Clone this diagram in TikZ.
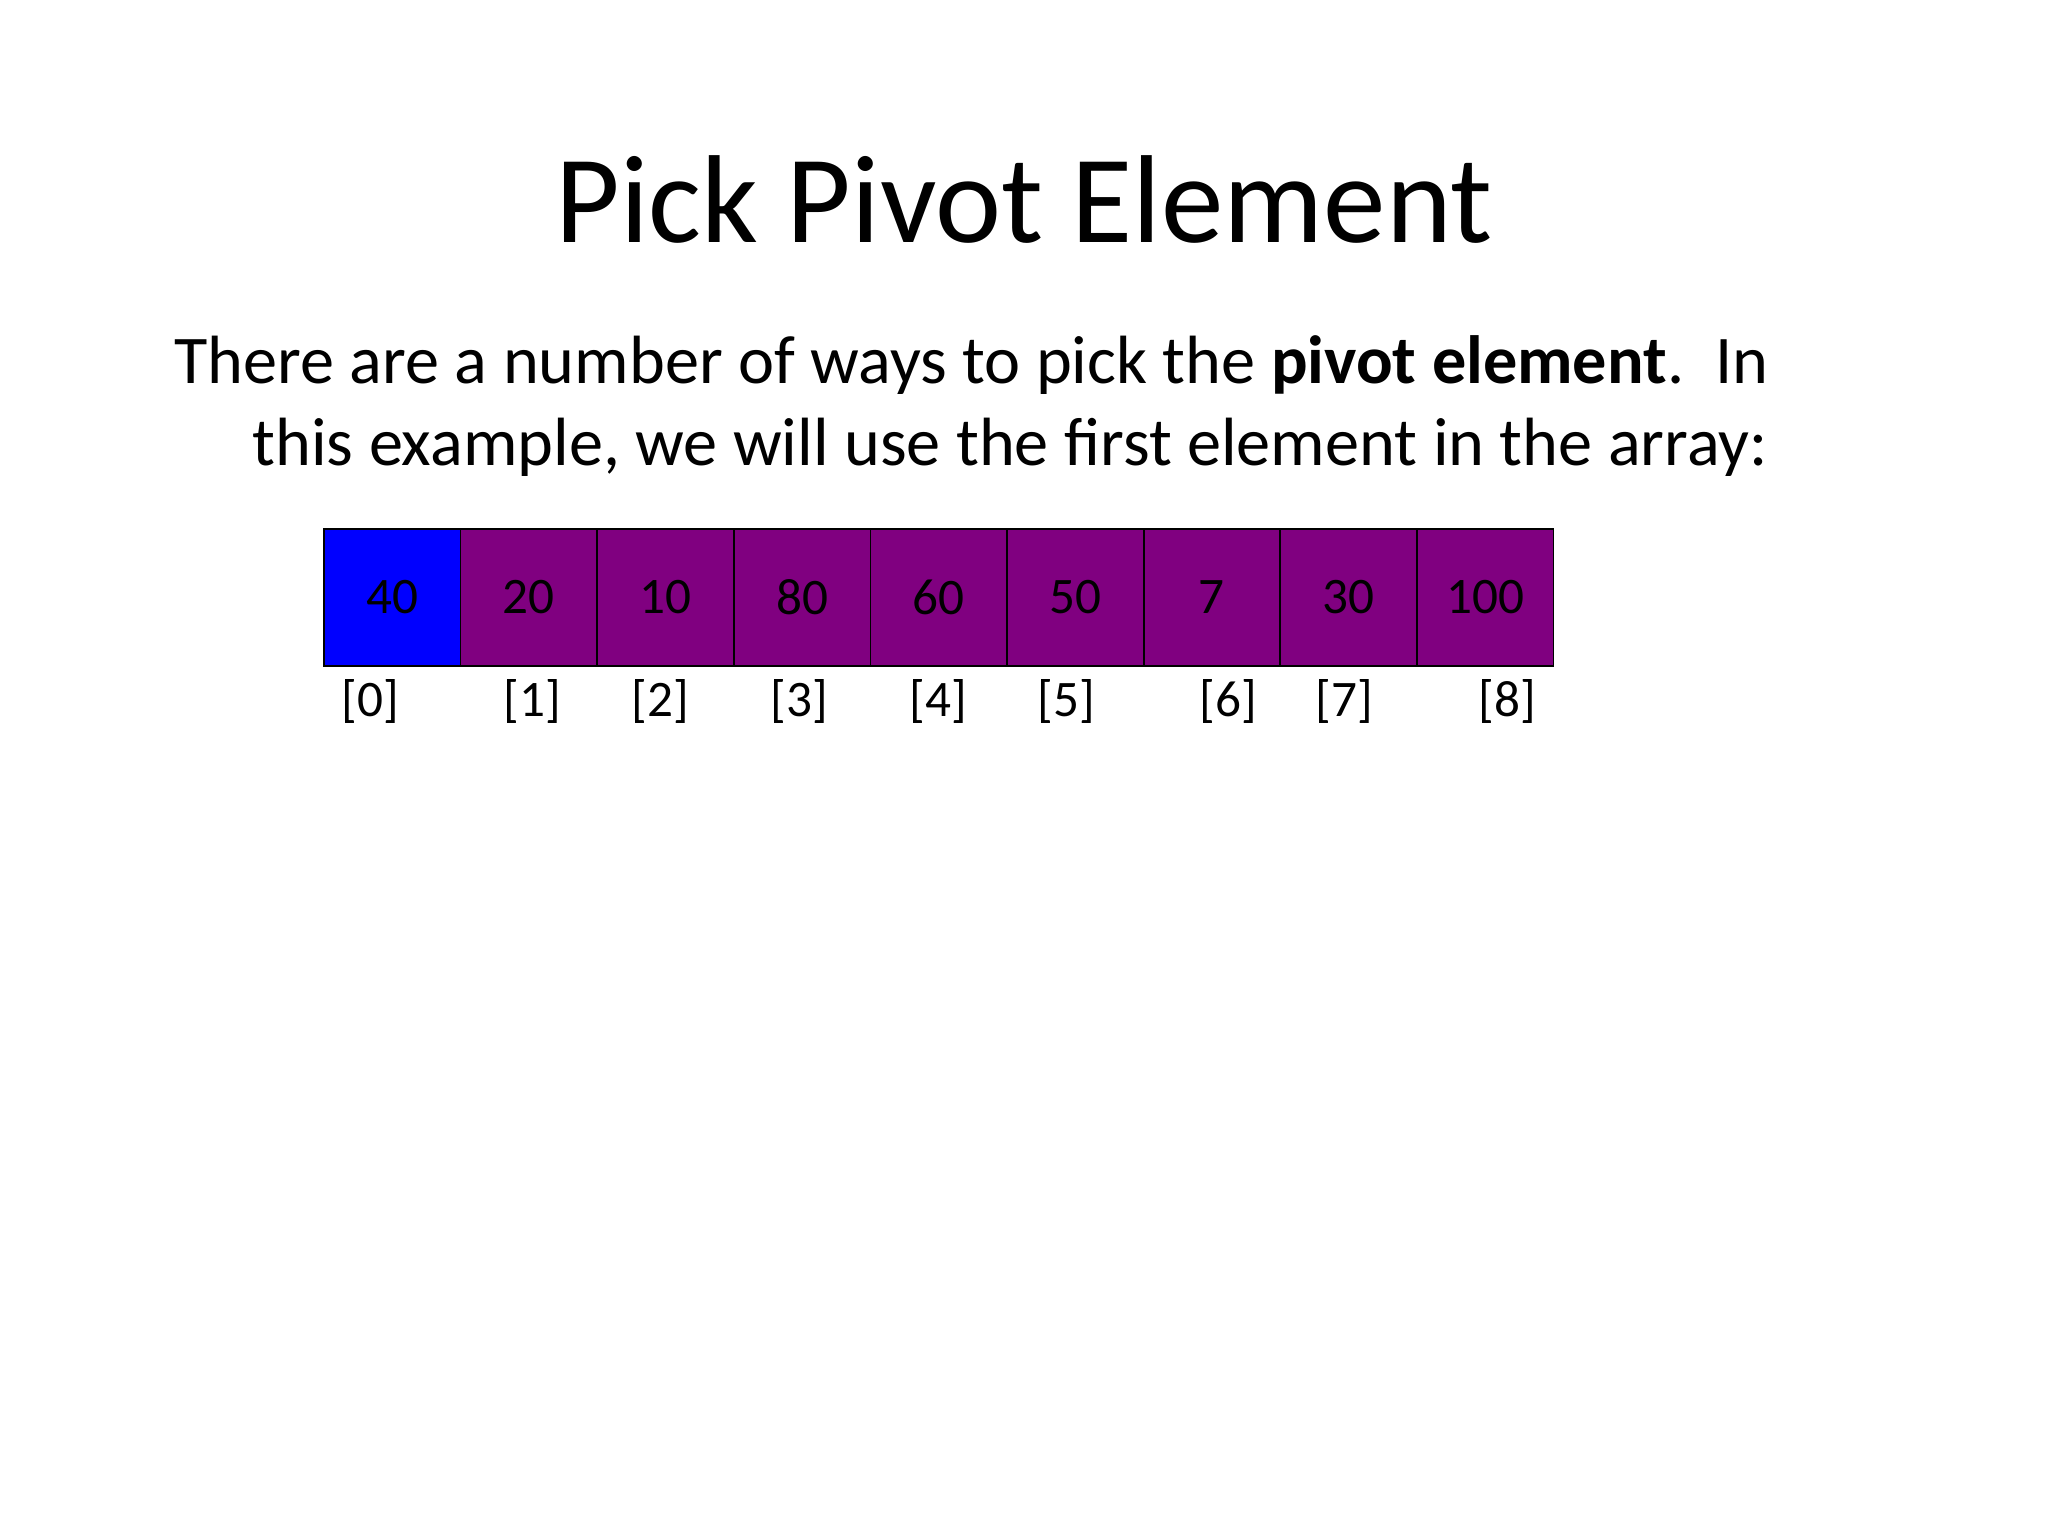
\documentclass[tikz,border=0pt]{standalone}
\usepackage{fontspec}
\setmainfont{Carlito}
\usepackage{tikz}
\definecolor{pivotblue}{RGB}{0,0,255}
\definecolor{cellpurple}{RGB}{128,0,128}
\tikzset{%
    slide title/.style={%
        anchor=base,
        inner sep=0pt,
        font=\fontsize{44}{52}\selectfont
    },
    body line/.style={%
        anchor=base west,
        inner sep=0pt,
        font=\fontsize{24}{29}\selectfont
    },
    array cell/.style={%
        draw=black,
        line width=0.6pt,
        fill=cellpurple,
        minimum width=48pt,
        minimum height=48.2pt,
        inner sep=0pt,
        font=\fontsize{18}{22}\selectfont
    },
    pivot cell/.style={%
        array cell,
        fill=pivotblue
    },
    index label/.style={%
        anchor=base,
        inner sep=0pt,
        font=\fontsize{18}{22}\selectfont
    }%
}

\begin{document}
\begin{tikzpicture}[x=0.3516pt, y=-0.3516pt]
\useasboundingbox[fill=white] (0,0) rectangle (2048,1536);

\node[slide title] (title) at (1024,242) {Pick Pivot Element};
\node[body line] (line1) at (174,383)
    {There are a number of ways to pick the \textbf{pivot element}.\ \ In};
\node[body line] (line2) at (252,465)
    {this example, we will use the first element in the array:};

% the array
\foreach \val [count=\i from 0] in {40,20,10,80,60,50,7,30,100} {
    \ifnum\i=0
        \node[pivot cell] (c\i) at ({324+68.3+136.6*\i},597.5) {\val};
    \else
        \node[array cell] (c\i) at ({324+68.3+136.6*\i},597.5) {\val};
    \fi
}

% indices under the cells
\foreach \xx [count=\i from 0] in {370,532,660,799,938,1066,1228,1344,1507} {
    \node[index label] (i\i) at (\xx,716) {[\i]};
}
\end{tikzpicture}
\end{document}
